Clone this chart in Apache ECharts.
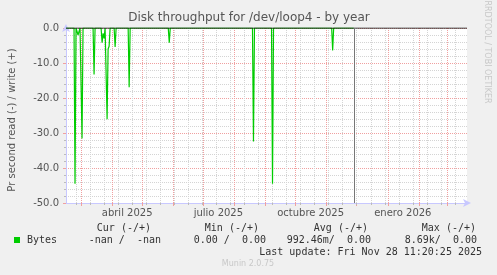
<!DOCTYPE html>
<html><head><meta charset="utf-8">
<script src="https://cdn.jsdelivr.net/npm/echarts@6/dist/echarts.min.js"></script>
<style>html,body{margin:0;padding:0;background:#f0f0f0;} #c{width:497px;height:275px;}</style>
</head><body><div id="c"></div>
<script>
const chartTitle = 'Disk throughput for /dev/loop4 - by year';
const yAxisName = 'Pr second read (-) / write (+)';
const rangeStart = '2025-02-14';
const rangeEnd = '2026-03-21';
const nowTime = '2025-11-28T11:20:25';
const monthNames = ['enero','febrero','marzo','abril','mayo','junio','julio','agosto','septiembre','octubre','noviembre','diciembre'];
const labelDates = ['2025-04-16','2025-07-16','2025-10-16','2026-01-16'];
const monthStarts = ['2025-03-01','2025-04-01','2025-05-01','2025-06-01','2025-07-01','2025-08-01','2025-09-01','2025-10-01','2025-11-01','2025-12-01','2026-01-01','2026-02-01','2026-03-01'];
const minorGrid = ['2025-02-24','2025-03-10','2025-03-24','2025-04-07','2025-04-21','2025-05-05','2025-05-19','2025-06-02','2025-06-16','2025-06-30','2025-07-14','2025-07-28','2025-08-11','2025-08-25','2025-09-08','2025-09-22','2025-10-06','2025-10-20','2025-11-03','2025-11-17','2025-12-01','2025-12-15','2025-12-29','2026-01-12','2026-01-26','2026-02-09','2026-02-23','2026-03-09'];
const readDates = ['2025-02-14','2025-02-22','2025-02-23','2025-02-24','2025-02-25','2025-02-26','2025-02-27','2025-02-28','2025-03-01','2025-03-02','2025-03-03','2025-03-13','2025-03-14','2025-03-15','2025-03-21','2025-03-22','2025-03-23','2025-03-24','2025-03-25','2025-03-26','2025-03-27','2025-03-28','2025-03-29','2025-03-30','2025-04-03','2025-04-04','2025-04-05','2025-04-17','2025-04-18','2025-04-19','2025-05-27','2025-05-28','2025-05-29','2025-08-19','2025-08-20','2025-08-21','2025-09-07','2025-09-08','2025-09-09','2025-11-06','2025-11-07','2025-11-08','2025-11-28'];
const readValues = [0,0,-44.5,0,0,-2.0,-1.0,0,0,-31.6,0,0,-13.3,0,0,-4.2,-1.5,-3.0,0,0,-26.1,-6.0,-5.2,0,0,-5.4,0,0,-16.9,0,0,-4.2,0,0,-32.4,0,0,-44.5,0,0,-6.4,0,0];
const legendHeaders = ['Cur (-/+)','Min (-/+)','Avg (-/+)','Max (-/+)'];
const legendSeriesName = 'Bytes';
const legendValues = ['-nan /  -nan','0.00 /  0.00','992.46m/  0.00','8.69k/  0.00'];
const lastUpdate = 'Last update: Fri Nov 28 11:20:25 2025';
const footer = 'Munin 2.0.75';
const watermark = 'RRDTOOL / TOBI OETIKER';

const t = s => new Date(s.length > 10 ? s : s + 'T00:00:00').getTime();
const seriesData = readDates.map((d, i) => [t(d), readValues[i]]);

const chart = echarts.init(document.getElementById('c'), null, {renderer: 'canvas'});
const axisBlue = '#c8c8ff';
const majorRed = '#f0a0a0';
const minorGray = '#d4d4d4';

const headerRight = [151, 259, 368, 476];
const valueRight = [161, 266, 371, 477];
const mono = '10px "DejaVu Sans Mono"';
function txt(text, x, y, font, fill, align, extra) {
  return Object.assign({type: 'text', x: x, y: y, style: {text: text, x: 0, y: 0, font: font, fill: fill, align: align, verticalAlign: 'middle', textAlign: align, textVerticalAlign: 'middle'}}, extra || {});
}
const graphics = [
  txt(chartTitle, 249, 18, '12px "DejaVu Sans"', '#555', 'center'),
  txt(yAxisName, 12.5, 120, '10px "DejaVu Sans"', '#555', 'center', {rotation: Math.PI / 2}),
  txt(watermark, 487.5, 52, '8px "DejaVu Sans"', '#c8c8c8', 'center', {rotation: -Math.PI / 2}),
  {type: 'rect', shape: {x: 14, y: 237, width: 6, height: 6}, style: {fill: '#00cc00'}},
  txt(legendSeriesName, 27, 240, mono, '#333', 'left'),
  txt(lastUpdate, 482, 252, mono, '#333', 'right'),
  txt(footer, 248, 264, '8px "DejaVu Sans"', '#c8c8c8', 'center')
];
legendHeaders.forEach((h, i) => graphics.push(txt(h, headerRight[i], 228, mono, '#333', 'right')));
legendValues.forEach((h, i) => graphics.push(txt(h, valueRight[i], 240, mono, '#333', 'right')));

chart.setOption({
  backgroundColor: '#f0f0f0',
  animation: false,
  grid: {left: 66, top: 28, right: 30, bottom: 72, show: true, backgroundColor: '#ffffff', borderWidth: 0},
  xAxis: [{
    type: 'value', position: 'bottom', min: t(rangeStart), max: t(rangeEnd), scale: true,
    axisLine: {show: true, onZero: false, lineStyle: {color: axisBlue}, symbol: ['none', 'arrow'], symbolSize: [6, 8], symbolOffset: [0, 4]},
    axisTick: {show: true, customValues: monthStarts.map(t), length: 3, lineStyle: {color: majorRed}},
    axisLabel: {show: true, customValues: labelDates.map(t), formatter: v => { const d = new Date(v); return monthNames[d.getMonth()] + ' ' + d.getFullYear(); }, color: '#555', fontFamily: 'DejaVu Sans', fontSize: 10, margin: 5},
    splitLine: {show: true, lineStyle: {color: majorRed, type: [1, 1]}}
  }, {
    type: 'value', position: 'bottom', min: t(rangeStart), max: t(rangeEnd), scale: true,
    axisLine: {show: false, onZero: false},
    axisTick: {show: true, customValues: minorGrid.map(t), length: 2, lineStyle: {color: '#bbb'}},
    axisLabel: {show: false},
    splitLine: {show: true, lineStyle: {color: minorGray, type: [1, 1]}}
  }],
  yAxis: {
    type: 'value', min: -50, max: 0, interval: 10,
    axisLine: {show: true, onZero: false, lineStyle: {color: axisBlue}, symbol: ['none', 'arrow'], symbolSize: [6, 8], symbolOffset: [0, 4]},
    axisTick: {show: true, length: 3, lineStyle: {color: majorRed}},
    minorTick: {show: true, splitNumber: 5, length: 2, lineStyle: {color: '#bbb'}},
    axisLabel: {formatter: v => v.toFixed(1), color: '#555', fontFamily: 'DejaVu Sans', fontSize: 10, margin: 7},
    splitLine: {show: true, lineStyle: {color: majorRed, type: [1, 1]}},
    minorSplitLine: {show: true, lineStyle: {color: minorGray, type: [1, 1]}}
  },
  graphic: graphics,
  series: [{
    type: 'line', name: legendSeriesName, xAxisIndex: 0, data: seriesData, showSymbol: false, symbol: 'none', z: 3,
    lineStyle: {color: '#00cc00', width: 1.2}, itemStyle: {color: '#00cc00'},
    markLine: {silent: true, symbol: ['none', 'none'], label: {show: false}, lineStyle: {color: '#777', type: 'solid', width: 1}, data: [{xAxis: t(nowTime)}]}
  }, {
    type: 'line', xAxisIndex: 0, data: [[t(rangeStart), 0], [t(rangeEnd), 0]], showSymbol: false, symbol: 'none', z: 4, silent: true,
    lineStyle: {color: '#000', width: 1}
  }]
});
</script>
</body></html>
